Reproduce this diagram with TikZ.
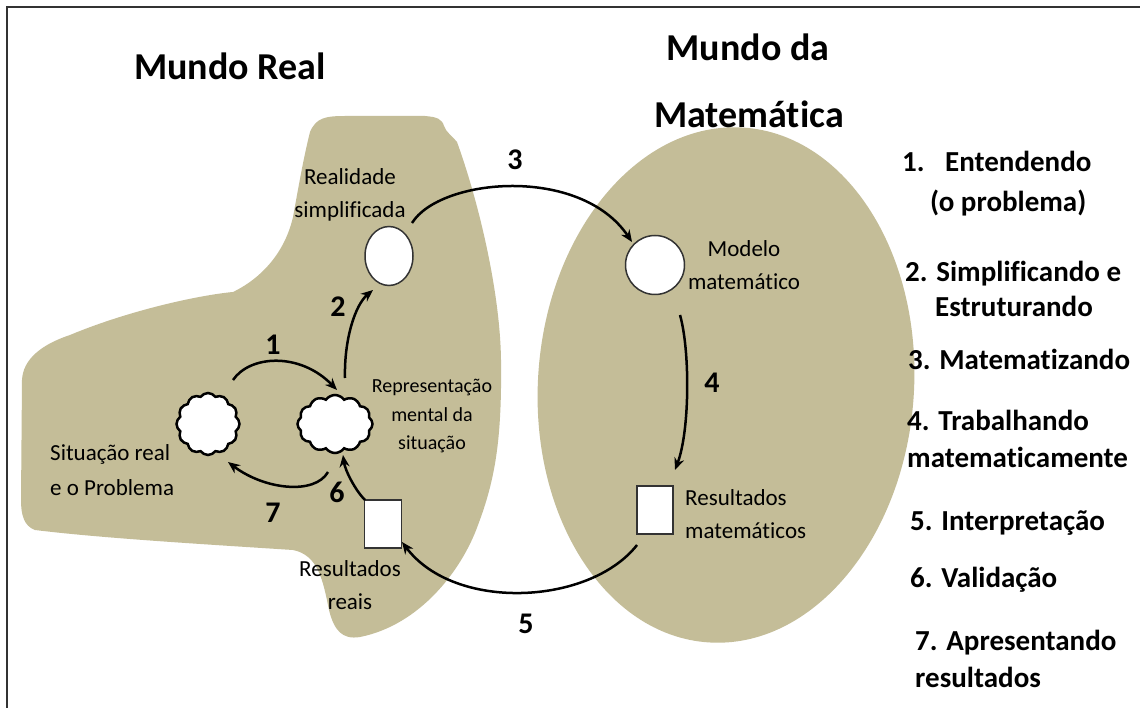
\documentclass[tikz,border=0pt]{standalone}
\usepackage{fontspec}
\setmainfont{Carlito}[Ligatures={NoCommon}]
\usetikzlibrary{shapes.symbols,shapes.geometric,arrows.meta,calc}
\definecolor{tanfill}{RGB}{196,189,152}
\begin{document}
\begin{tikzpicture}[x=1pt,y=-1pt,
  lbl/.style={font=\fontsize{23}{33}\selectfont, align=center, inner sep=0},
  num/.style={font=\fontsize{30}{36}\selectfont\bfseries, inner sep=0},
  item/.style={font=\fontsize{29}{35}\selectfont\bfseries, anchor=base west, inner sep=0},
  title/.style={font=\fontsize{38}{46}\selectfont\bfseries, inner sep=0},
  arr/.style={line width=2.5pt, -{Stealth[length=12pt,width=10pt]}},
  cl/.style={cloud, cloud puffs=12, cloud puff arc=110, draw, line width=2.5pt, fill=white, inner sep=0},
  box/.style={rectangle, draw=black!80, line width=1.5pt, fill=white, inner sep=0},
  round/.style={ellipse, draw=black!80, line width=1.5pt, fill=white, inner sep=0}]
\useasboundingbox (0,0) rectangle (1140,708);
\fill[white] (0,0) rectangle (1140,708);
% frame
\draw[line width=2pt, black!80] (7,708) -- (7,7) -- (1140,7);
% real world blob
\fill[tanfill] (310,132) .. controls (316,118) and (325,116) .. (345,116)
  -- (425,116) .. controls (437,117) and (442,119) .. (444,126)
  .. controls (446,132) and (452,136) .. (457,142)
  .. controls (478,200) and (500,290) .. (501,360)
  .. controls (502,440) and (495,480) .. (478,525)
  .. controls (462,570) and (420,625) .. (360,637)
  .. controls (342,640) and (334,630) .. (329,610)
  .. controls (323,580) and (318,555) .. (293,550)
  .. controls (200,544) and (100,538) .. (35,530)
  .. controls (24,526) and (21,515) .. (21,500)
  -- (22,380) .. controls (23,360) and (40,345) .. (70,335)
  .. controls (130,310) and (200,295) .. (233,292)
  .. controls (262,278) and (285,252) .. (293,217)
  .. controls (298,190) and (303,160) .. (310,132) -- cycle;
% math world ellipse
\fill[tanfill, rotate around={-4:(726,385)}] (726,385) ellipse [x radius=188, y radius=258];
% titles
\node[title] (t1) at (230,66) {Mundo Real};
\node[title] (t2) at (748,47) {Mundo da};
\node[title] (t3) at (749,114) {Matemática};
% nodes
\node[cl, minimum width=63, minimum height=62] (c1) at (208,424) {};
\node[cl, minimum width=75, minimum height=58] (c2) at (335,424) {};
\node[round, minimum width=48, minimum height=59] (rs) at (389,256) {};
\node[round, circle, minimum size=59] (mm) at (655,265) {};
\node[box, minimum width=36, minimum height=48] (rm) at (655,510) {};
\node[box, minimum width=37, minimum height=48] (rr) at (383,524) {};
% labels
\node[lbl] (l1) at (350,195) {Realidade\\simplificada};
\node[lbl] (l2) at (744,265) {Modelo\\matemático};
\node[lbl, font=\fontsize{20}{28.5}\selectfont] (l3) at (432,416) {Representação\\mental da\\situação};
\node[lbl, align=left, anchor=west, font=\fontsize{23}{35}\selectfont] (l4) at (50,470) {Situação real\\e o Problema};
\node[lbl, align=left, anchor=west] (l5) at (685,514) {Resultados\\matemáticos};
\node[lbl] (l6) at (350,585) {Resultados\\reais};
% arrows
\draw[arr] ($(c1)+(25,-44)$) .. controls (250,355) and (300,352) .. ($(c2)+(2,-34)$);
\draw[arr] ($(c2)+(10,-46)$) .. controls (344,340) and (355,305) .. ($(rs)+(-16,34)$);
\draw[arr] ($(rs)+(23,-33)$) .. controls (440,178) and (580,165) .. ($(mm)+(-23,-23)$);
\draw[arr] ($(mm)+(25,50)$) .. controls (690,350) and (690,430) .. ($(rm)+(20,-40)$);
\draw[arr] ($(rm)+(-18,35)$) .. controls (590,605) and (455,612) .. ($(rr)+(19,18)$);
\draw[arr] ($(rr)+(-18,-24)$) .. controls (355,490) and (345,470) .. ($(c2)+(8,31)$);
\draw[arr] ($(c2)+(-7,48)$) .. controls (315,495) and (265,490) .. ($(c1)+(20,38)$);
% step numbers
\node[num] (n1) at (273,345) {1};
\node[num] (n2) at (338,307) {2};
\node[num] (n3) at (515,160) {3};
\node[num] (n4) at (712,383) {4};
\node[num] (n5) at (526,624) {5};
\node[num] (n6) at (337,492) {6};
\node[num] (n7) at (273,513) {7};
% list
\node[item] (i1a) at (902,172) {1.};
\node[item] (i1b) at (945,172) {Entendendo};
\node[item] (i1c) at (930,212) {(o problema)};
\node[item] (i2a) at (905,282) {2. Simplificando e};
\node[item] (i2b) at (935,317) {Estruturando};
\node[item] (i3) at (908,370) {3. Matematizando};
\node[item] (i4a) at (907,430) {4. Trabalhando};
\node[item] (i4b) at (907,467) {matematicamente};
\node[item] (i5) at (910,530) {5. Interpretação};
\node[item] (i6) at (910,587) {6. Validação};
\node[item] (i7a) at (915,650) {7. Apresentando};
\node[item] (i7b) at (915,687) {resultados};
\end{tikzpicture}
\end{document}
